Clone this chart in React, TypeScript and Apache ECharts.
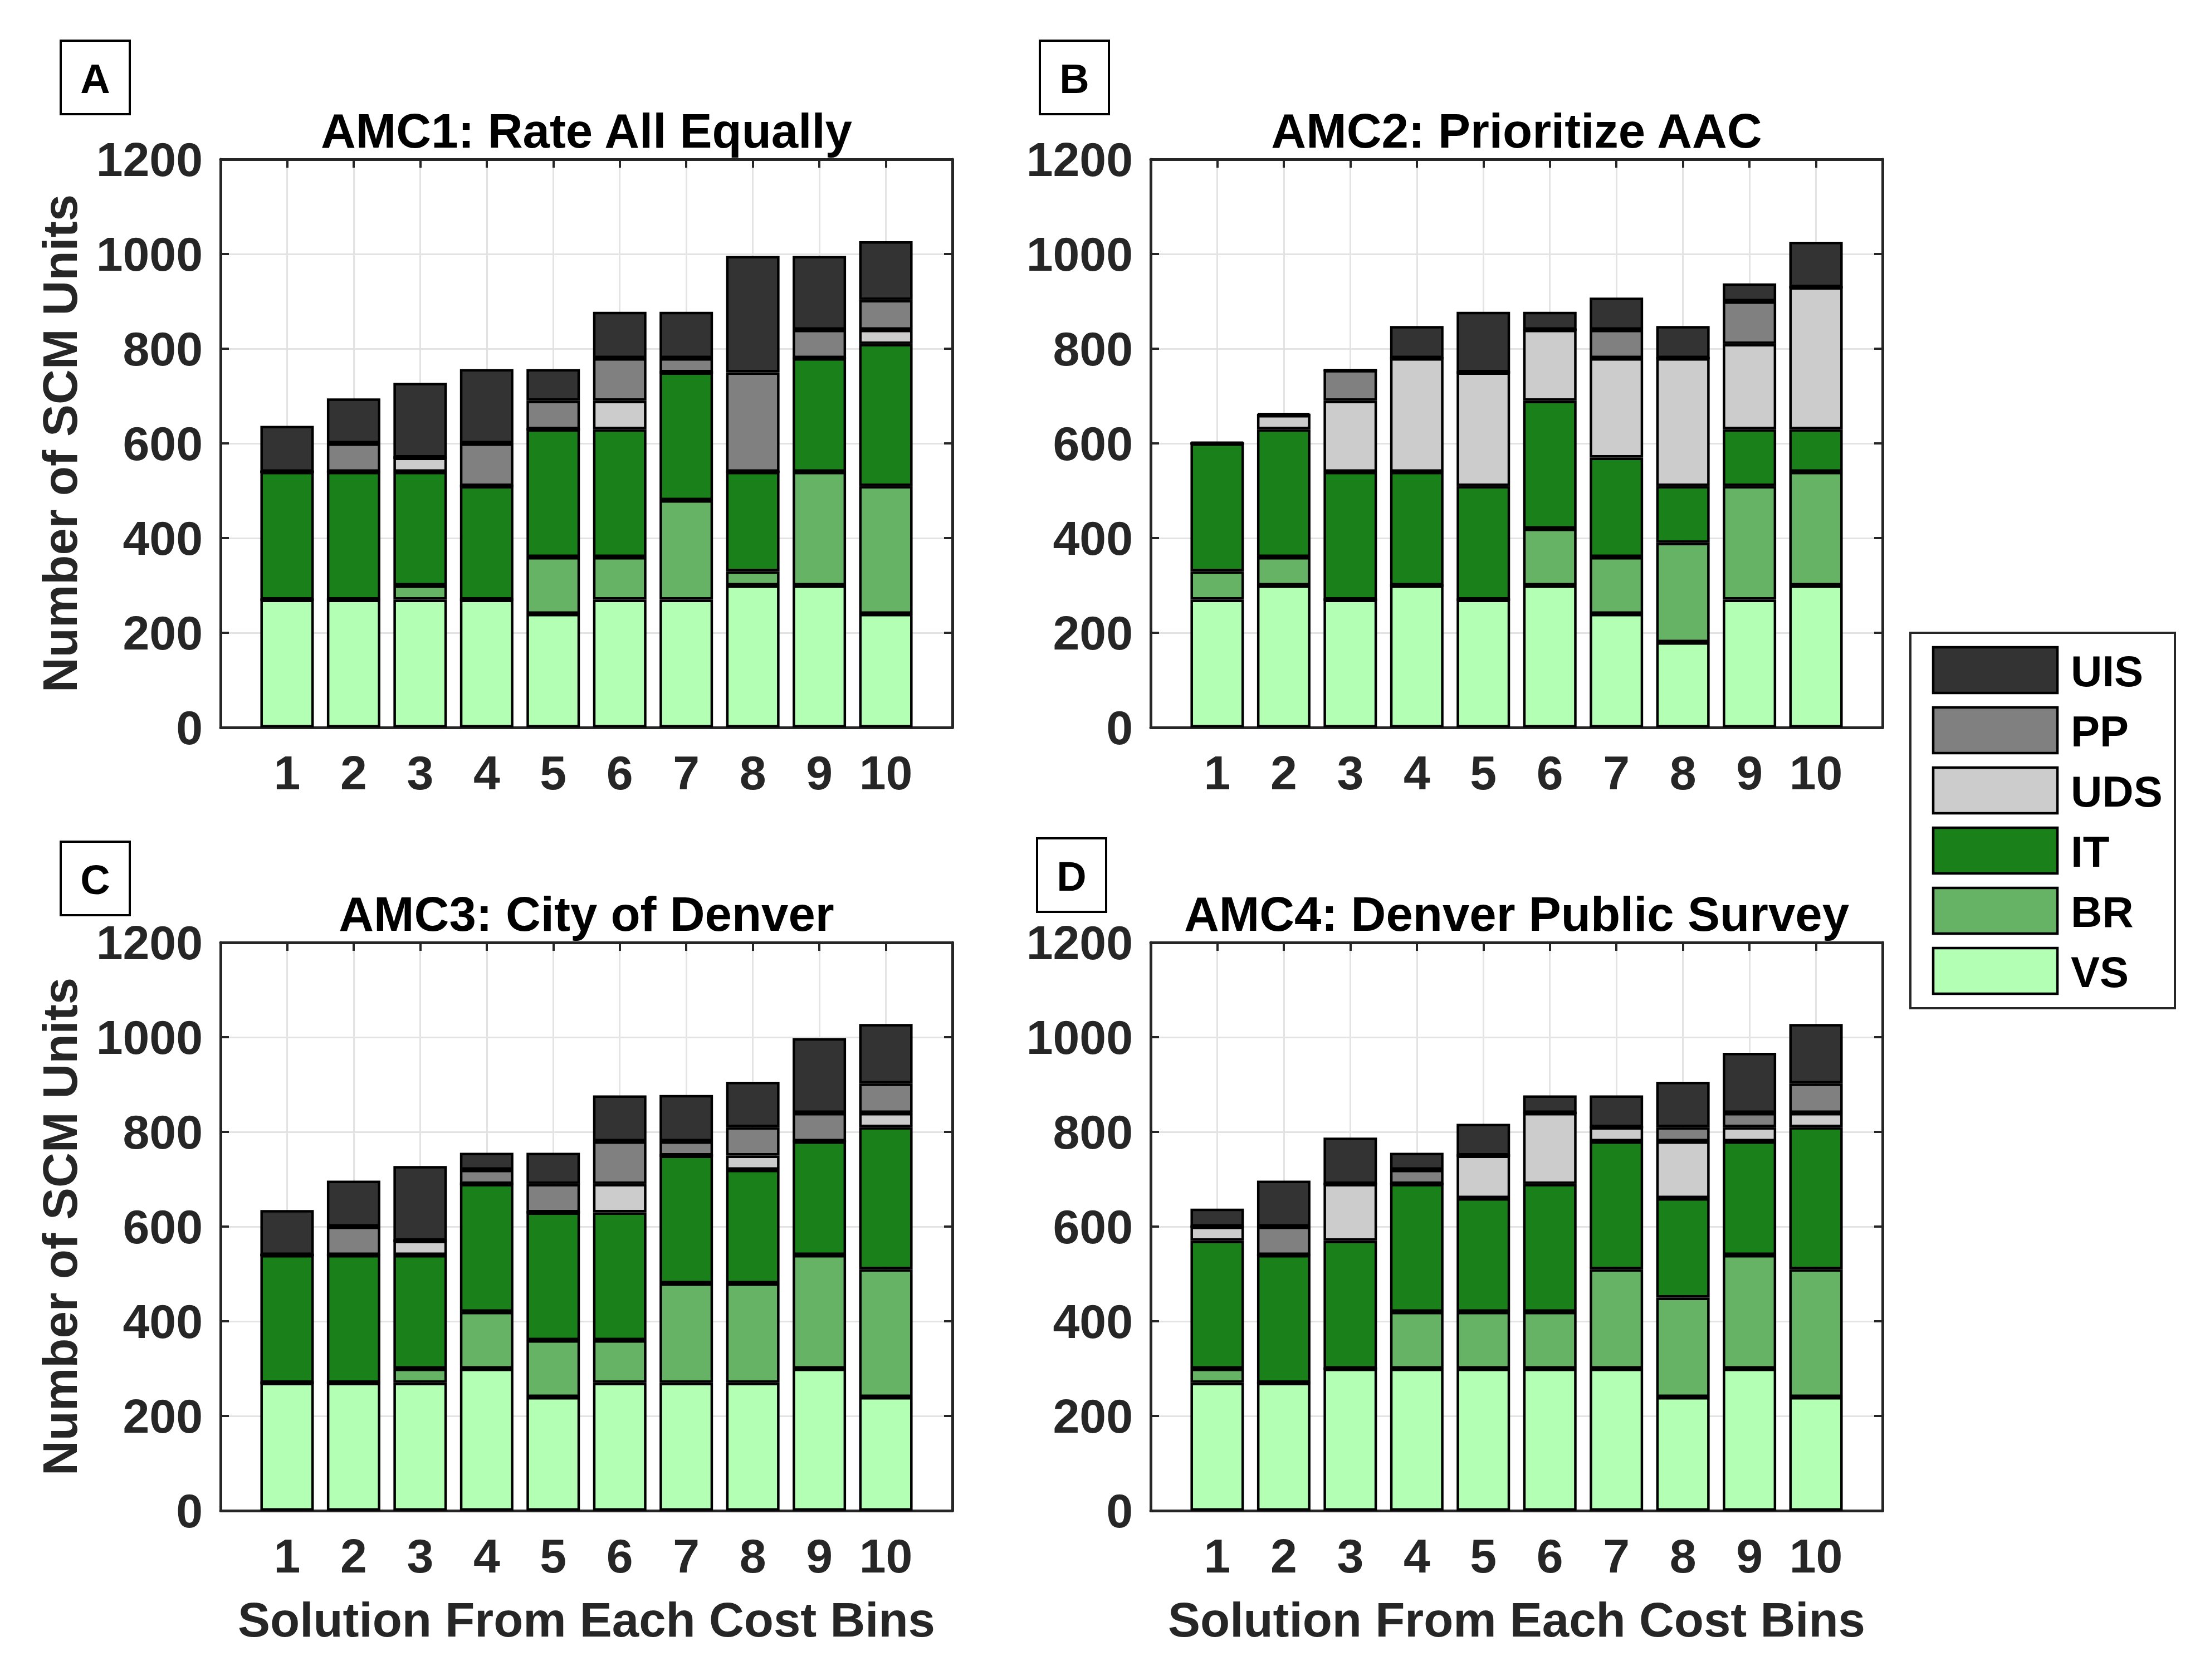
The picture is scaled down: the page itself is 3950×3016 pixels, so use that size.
import React, { useEffect, useRef } from "react";
import * as echarts from "echarts";

// ---------- data ----------
const categories = [1, 2, 3, 4, 5, 6, 7, 8, 9, 10];
const stackOrder = ["VS", "BR", "IT", "UDS", "PP", "UIS"];
const legendOrder = ["UIS", "PP", "UDS", "IT", "BR", "VS"];
const panelTitles = [
  "AMC1: Rate All Equally",
  "AMC2: Prioritize AAC",
  "AMC3: City of Denver",
  "AMC4: Denver Public Survey",
];
const panelLetters = ["A", "B", "C", "D"];
const yAxisTitle = "Number of SCM Units";
const xAxisTitle = "Solution From Each Cost Bins";
const yMin = 0;
const yMax = 1200;
const yStep = 200;

// AMC1: Rate All Equally
const amc1VS = [270, 270, 270, 270, 240, 270, 270, 300, 300, 240];
const amc1BR = [0, 0, 30, 0, 120, 90, 210, 30, 240, 270];
const amc1IT = [270, 270, 240, 240, 270, 270, 270, 210, 240, 300];
const amc1UDS = [0, 0, 30, 0, 0, 60, 0, 0, 0, 30];
const amc1PP = [0, 60, 0, 90, 60, 90, 30, 210, 60, 63];
const amc1UIS = [97, 95, 158, 157, 67, 98, 98, 246, 156, 124];

// AMC2: Prioritize AAC
const amc2VS = [270, 300, 270, 300, 270, 300, 240, 180, 270, 300];
const amc2BR = [60, 60, 0, 0, 0, 120, 120, 210, 240, 240];
const amc2IT = [270, 270, 270, 240, 240, 270, 210, 120, 120, 90];
const amc2UDS = [0, 30, 150, 240, 240, 150, 210, 270, 180, 300];
const amc2PP = [0, 0, 65, 0, 0, 0, 60, 0, 90, 0];
const amc2UIS = [3, 4, 0, 68, 128, 38, 68, 68, 38, 96];

// AMC3: City of Denver
const amc3VS = [270, 270, 270, 300, 240, 270, 270, 270, 300, 240];
const amc3BR = [0, 0, 30, 120, 120, 90, 210, 210, 240, 270];
const amc3IT = [270, 270, 240, 270, 270, 270, 270, 240, 240, 300];
const amc3UDS = [0, 0, 30, 0, 0, 60, 0, 30, 0, 30];
const amc3PP = [0, 60, 0, 30, 60, 90, 30, 60, 60, 62];
const amc3UIS = [95, 97, 158, 36, 66, 97, 98, 96, 158, 126];

// AMC4: Denver Public Survey
const amc4VS = [270, 270, 300, 300, 300, 300, 300, 240, 300, 240];
const amc4BR = [30, 0, 0, 120, 120, 120, 210, 210, 240, 270];
const amc4IT = [270, 270, 270, 270, 240, 270, 270, 210, 240, 300];
const amc4UDS = [30, 0, 120, 0, 90, 150, 30, 120, 30, 30];
const amc4PP = [0, 60, 0, 30, 0, 0, 0, 30, 30, 62];
const amc4UIS = [38, 97, 98, 36, 67, 37, 67, 96, 127, 126];

const panelData: Record<string, number[]>[] = [
  { VS: amc1VS, BR: amc1BR, IT: amc1IT, UDS: amc1UDS, PP: amc1PP, UIS: amc1UIS },
  { VS: amc2VS, BR: amc2BR, IT: amc2IT, UDS: amc2UDS, PP: amc2PP, UIS: amc2UIS },
  { VS: amc3VS, BR: amc3BR, IT: amc3IT, UDS: amc3UDS, PP: amc3PP, UIS: amc3UIS },
  { VS: amc4VS, BR: amc4BR, IT: amc4IT, UDS: amc4UDS, PP: amc4PP, UIS: amc4UIS },
];

// ---------- style ----------
const colors: Record<string, string> = {
  UIS: "#333333",
  PP: "#808080",
  UDS: "#cccccc",
  IT: "#1a801a",
  BR: "#66b366",
  VS: "#b3ffb3",
};
const FONT = "'Liberation Sans', Arial, Helvetica, sans-serif";
const AXIS_COLOR = "#262626";

const W = 3950;
const H = 3016;
const PW = 1314;
const PH = 1020;
const grids = [
  { left: 396, top: 286 },
  { left: 2066, top: 286 },
  { left: 396, top: 1692 },
  { left: 2066, top: 1692 },
];
const letterBoxes = [
  { x: 109, y: 73 },
  { x: 1867, y: 73 },
  { x: 109, y: 1511 },
  { x: 1862, y: 1505 },
];

// x positions: an empty slot on each side (MATLAB xlim [0, 11])
const xSlots = ["", ...categories.map(String), ""];

function buildOption() {
  const xAxes: any[] = [];
  const yAxes: any[] = [];
  const series: any[] = [];
  const graphic: any[] = [];

  const axisLine = { show: true, onZero: false, lineStyle: { color: AXIS_COLOR, width: 5 } };
  const axisTick = {
    show: true,
    inside: true,
    length: 15,
    interval: 0,
    lineStyle: { color: AXIS_COLOR, width: 4 },
  };
  const splitLine = { show: true, interval: 0, lineStyle: { color: "#e3e3e3", width: 3 } };
  const labelStyle = {
    fontSize: 86,
    fontWeight: "bold",
    fontFamily: FONT,
    color: AXIS_COLOR,
  };

  grids.forEach((g, p) => {
    const showXName = p >= 2;
    const showYName = p % 2 === 0;
    xAxes.push({
      gridIndex: p,
      type: "category",
      data: xSlots,
      boundaryGap: false,
      position: "bottom",
      axisLine,
      axisTick,
      splitLine,
      axisLabel: { ...labelStyle, margin: 38, interval: 0 },
      name: showXName ? xAxisTitle : "",
      nameLocation: "middle",
      nameGap: 152,
      nameTextStyle: { ...labelStyle, fontSize: 87 },
    });
    xAxes.push({
      gridIndex: p,
      type: "category",
      data: xSlots,
      boundaryGap: false,
      position: "top",
      axisLine,
      axisTick,
      splitLine: { show: false },
      axisLabel: { show: false },
    });
    yAxes.push({
      gridIndex: p,
      type: "value",
      min: yMin,
      max: yMax,
      interval: yStep,
      position: "left",
      axisLine,
      axisTick,
      splitLine,
      axisLabel: { ...labelStyle, margin: 32, formatter: (v: number) => String(v) },
      name: showYName ? yAxisTitle : "",
      nameLocation: "middle",
      nameRotate: 90,
      nameGap: 245,
      nameTextStyle: { ...labelStyle, fontSize: 87 },
    });
    yAxes.push({
      gridIndex: p,
      type: "value",
      min: yMin,
      max: yMax,
      interval: yStep,
      position: "right",
      axisLine,
      axisTick,
      splitLine: { show: false },
      axisLabel: { show: false },
    });

    stackOrder.forEach((s) => {
      const vals = panelData[p][s];
      series.push({
        type: "bar",
        name: s,
        xAxisIndex: 2 * p,
        yAxisIndex: 2 * p,
        stack: "panel" + p,
        barWidth: 96,
        silent: true,
        data: ["-", ...vals, "-"],
        itemStyle: { color: colors[s], borderColor: "#000000", borderWidth: 4.5 },
      });
    });

    // panel title
    graphic.push({
      type: "text",
      x: g.left + PW / 2,
      y: g.top - 52,
      style: {
        text: panelTitles[p],
        fontSize: 87,
        fontWeight: "bold",
        fontFamily: FONT,
        fill: "#000000",
        align: "center",
        verticalAlign: "middle",
      },
    });
    // panel letter box
    const lb = letterBoxes[p];
    graphic.push({
      type: "rect",
      shape: { x: lb.x, y: lb.y, width: 124, height: 132 },
      style: { fill: "#ffffff", stroke: "#000000", lineWidth: 4 },
    });
    graphic.push({
      type: "text",
      x: lb.x + 62,
      y: lb.y + 68,
      style: {
        text: panelLetters[p],
        fontSize: 74,
        fontWeight: "bold",
        fontFamily: FONT,
        fill: "#000000",
        align: "center",
        verticalAlign: "middle",
      },
    });
  });

  // legend
  const lgX = 3430;
  const lgY = 1136;
  graphic.push({
    type: "rect",
    shape: { x: lgX, y: lgY, width: 475, height: 674 },
    style: { fill: "#ffffff", stroke: AXIS_COLOR, lineWidth: 4 },
  });
  legendOrder.forEach((s, i) => {
    const y = lgY + 26 + i * 108;
    graphic.push({
      type: "rect",
      shape: { x: lgX + 41, y, width: 223, height: 82 },
      style: { fill: colors[s], stroke: "#000000", lineWidth: 4.5 },
    });
    graphic.push({
      type: "text",
      x: lgX + 288,
      y: y + 43,
      style: {
        text: s,
        fontSize: 78,
        fontWeight: "bold",
        fontFamily: FONT,
        fill: "#000000",
        align: "left",
        verticalAlign: "middle",
      },
    });
  });

  return {
    animation: false,
    backgroundColor: "#ffffff",
    grid: grids.map((g) => ({ left: g.left, top: g.top, width: PW, height: PH, containLabel: false })),
    xAxis: xAxes,
    yAxis: yAxes,
    series,
    graphic,
  };
}

export default function App() {
  const ref = useRef<HTMLDivElement>(null);
  useEffect(() => {
    if (!ref.current) return;
    const chart = echarts.init(ref.current, undefined, { renderer: "svg", width: W, height: H });
    chart.setOption(buildOption() as any);
    return () => chart.dispose();
  }, []);
  return (
    <div
      ref={ref}
      style={{ position: "absolute", left: 0, top: 0, width: W, height: H, background: "#ffffff" }}
    />
  );
}
